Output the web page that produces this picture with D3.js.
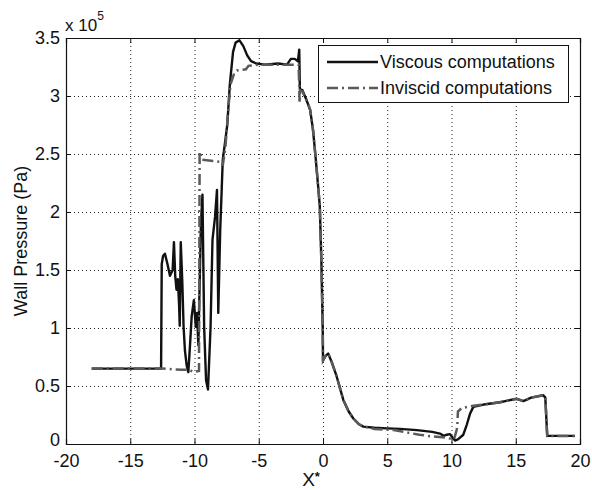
<!DOCTYPE html>
<html><head><meta charset="utf-8">
<script src="https://cdn.jsdelivr.net/npm/d3@7"></script>
<style>
body{margin:0;background:#fff;}
text{font-family:"Liberation Sans",Arial,sans-serif;fill:#111;}
</style></head>
<body><svg id="c" width="592" height="490"></svg>
<script>
const xTicks = [-20,-15,-10,-5,0,5,10,15,20];
const xTickLabels = ["-20","-15","-10","-5","0","5","10","15","20"];
const yTicks = [0,0.5,1,1.5,2,2.5,3,3.5];
const yTickLabels = ["0","0.5","1","1.5","2","2.5","3","3.5"];
const seriesNames = ["Viscous computations","Inviscid computations"];
// Wall pressure in units of 1e5 Pa
const viscousX = [-18,-12.6,-12.55,-12.45,-12.3,-12.1,-11.91,-11.7,-11.6,-11.5,-11.4,-11.3,-11.2,-11.15,-11.07,-10.95,-10.85,-10.74,-10.6,-10.48,-10.35,-10.22,-10.05,-9.9,-9.8,-9.7,-9.5,-9.38,-9.25,-9.1,-8.95,-8.75,-8.6,-8.4,-8.25,-8.15,-8.0,-7.8,-7.6,-7.45,-7.25,-7.0,-6.8,-6.5,-6.2,-5.9,-5.6,-5.2,-4.5,-3.5,-2.8,-2.5,-2.2,-1.95,-1.85,-1.8,-1.6,-1.3,-1.0,-0.78,-0.6,-0.4,-0.25,-0.12,-0.02,0.0,0.2,0.4,0.7,1.07,1.58,2.0,2.36,2.8,3.14,4.0,5.0,6.0,7.3,8.5,9.1,9.4,9.63,9.88,10.05,10.27,10.5,10.92,11.2,11.44,11.7,12.5,13.77,15.07,15.59,16.2,17.14,17.3,17.45,19.6];
const viscousP = [0.65,0.65,1.55,1.62,1.64,1.55,1.45,1.5,1.74,1.45,1.33,1.42,1.2,1.02,1.74,1.4,1.01,0.8,0.67,0.62,0.85,1.1,1.24,1.01,1.13,0.85,1.9,2.15,1.01,0.55,0.47,1.01,1.76,1.96,2.19,1.13,1.84,2.45,2.62,2.75,3.1,3.38,3.46,3.48,3.43,3.35,3.3,3.28,3.27,3.28,3.27,3.32,3.32,3.3,3.4,3.06,3.05,2.97,2.88,2.71,2.5,2.25,2.05,1.55,0.98,0.72,0.76,0.78,0.7,0.58,0.38,0.28,0.22,0.17,0.15,0.14,0.135,0.13,0.12,0.105,0.09,0.07,0.08,0.085,0.06,0.03,0.04,0.08,0.17,0.26,0.32,0.34,0.36,0.39,0.37,0.4,0.42,0.4,0.07,0.07];
const inviscidX = [-18,-12.5,-11,-10.4,-10.1,-9.65,-9.6,-9.4,-8.5,-7.9,-7.8,-7.6,-7.4,-7.2,-6.9,-6.7,-6.0,-5.8,-5.0,-3.0,-1.9,-1.86,-1.82,-1.78,-1.6,-1.3,-1.0,-0.78,-0.6,-0.4,-0.25,-0.12,-0.02,0.0,0.2,0.4,0.7,1.07,1.58,2.0,2.36,2.8,3.14,4.0,5.5,6.5,7.5,8.5,9.5,10.2,10.4,10.45,10.5,10.8,11.7,12.5,13.77,15.07,15.59,16.2,17.14,17.3,17.45,19.6];
const inviscidP = [0.65,0.65,0.64,0.64,0.62,0.63,2.52,2.45,2.44,2.43,2.4,2.55,2.85,3.1,3.2,3.22,3.23,3.26,3.27,3.27,3.27,3.12,2.94,3.05,3.04,2.97,2.88,2.71,2.5,2.25,2.05,1.55,0.98,0.72,0.76,0.78,0.7,0.58,0.38,0.28,0.22,0.17,0.15,0.13,0.12,0.1,0.08,0.065,0.055,0.04,0.12,0.15,0.28,0.31,0.33,0.34,0.36,0.39,0.37,0.4,0.42,0.4,0.07,0.07];

const svg = d3.select("#c");
const L=66,R=580,T=38,B=444;
const x = d3.scaleLinear().domain([-20,20]).range([L,R]);
const y = d3.scaleLinear().domain([0,3.5]).range([B,T]);

// grid
const g = svg.append("g");
g.selectAll("line.vg").data(xTicks.slice(1,-1)).enter().append("line")
 .attr("x1",d=>x(d)+0.5).attr("x2",d=>x(d)+0.5).attr("y1",T).attr("y2",B)
 .attr("stroke","#222").attr("stroke-width",1).attr("stroke-dasharray","1,3");
g.selectAll("line.hg").data(yTicks.slice(1,-1)).enter().append("line")
 .attr("y1",d=>y(d)+0.5).attr("y2",d=>y(d)+0.5).attr("x1",L).attr("x2",R)
 .attr("stroke","#222").attr("stroke-width",1).attr("stroke-dasharray","1,3");

const line = d3.line().x(d=>x(d[0])).y(d=>y(d[1]));
const vData = viscousX.map((v,i)=>[v,viscousP[i]]);
const iData = inviscidX.map((v,i)=>[v,inviscidP[i]]);
svg.append("path").attr("d",line(vData)).attr("fill","none").attr("stroke","#111")
 .attr("stroke-width",2.4).attr("stroke-linejoin","round");
svg.append("path").attr("d",line(iData)).attr("fill","none").attr("stroke","#5a5a5a")
 .attr("stroke-width",2.5).attr("stroke-dasharray","11,4,2,4");

// axes
const fx = d=>xTickLabels[xTicks.indexOf(d)];
const fy = d=>yTickLabels[yTicks.indexOf(d)];
svg.append("g").attr("transform",`translate(0,${B})`)
 .call(d3.axisBottom(x).tickValues(xTicks).tickSize(-5).tickPadding(10).tickFormat(fx));
svg.append("g").attr("transform",`translate(0,${T})`)
 .call(d3.axisTop(x).tickValues(xTicks).tickSize(-5).tickFormat(""));
const ay = svg.append("g").attr("transform",`translate(${L},0)`)
 .call(d3.axisLeft(y).tickValues(yTicks).tickSize(-5).tickPadding(6).tickFormat(fy));
svg.append("g").attr("transform",`translate(${R},0)`)
 .call(d3.axisRight(y).tickValues(yTicks).tickSize(-5).tickFormat(""));
svg.selectAll(".domain").attr("stroke","#111").attr("stroke-width",1.2);
svg.selectAll(".tick line").attr("stroke","#111");
svg.selectAll(".tick text").style("font-size","18px").style("font-family","Liberation Sans, Arial, sans-serif").attr("fill","#111");
ay.selectAll(".tick text").filter(d=>d===0).attr("dy","0.1em");

// exponent label
const ex = svg.append("text").attr("x",65).attr("y",31).style("font-size","17px");
ex.append("tspan").text("x 10");
ex.append("tspan").attr("dy",-11).style("font-size","12px").text("5");

// axis titles
svg.append("text").attr("transform","translate(27,241) rotate(-90)").attr("text-anchor","middle")
 .style("font-size","18px").text("Wall Pressure (Pa)");
const xt = svg.append("text").attr("x",311).attr("y",486).attr("text-anchor","middle").style("font-size","19px");
xt.append("tspan").text("X");
xt.append("tspan").attr("dy",-5).style("font-size","13px").style("font-weight","bold").text("*");

// legend
const lg = svg.append("g");
lg.append("rect").attr("x",318.5).attr("y",45.5).attr("width",250).attr("height",57)
 .attr("fill","#fff").attr("stroke","#111").attr("stroke-width",1);
const rows=[{y:62,c:"#111",w:2.4,da:null},{y:88,c:"#5a5a5a",w:2.5,da:"11,4,2,4"}];
rows.forEach((r,i)=>{
  lg.append("line").attr("x1",327).attr("x2",378).attr("y1",r.y).attr("y2",r.y)
   .attr("stroke",r.c).attr("stroke-width",r.w).attr("stroke-dasharray",r.da);
  lg.append("text").attr("x",380).attr("y",r.y).attr("dy","0.35em").style("font-size","18px").text(seriesNames[i]);
});
</script></body></html>
